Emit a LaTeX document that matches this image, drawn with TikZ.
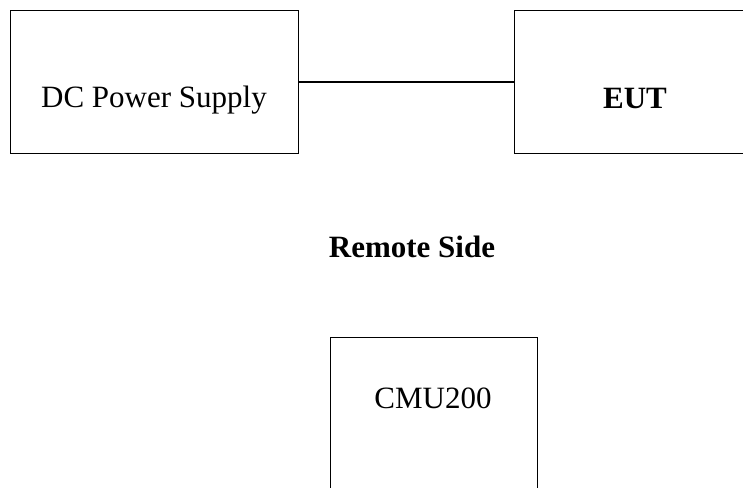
\documentclass[tikz,border=0pt]{standalone}
\usepackage{fontspec}
\setmainfont{Liberation Serif}
\begin{document}
\begin{tikzpicture}[x=1pt,y=-1pt,
  box/.style={draw=black,line width=1.4pt,rectangle,inner sep=0pt,anchor=north west},
  lbl/.style={anchor=base,inner sep=0pt,font=\fontsize{31}{36}\selectfont},
  conn/.style={draw=black,line width=1.4pt}]
\clip (0,0) rectangle (743,487);
\fill[white] (0,0) rectangle (743,487);
\node[box,minimum width=288pt,minimum height=143pt] (dc) at (10,10) {};
\node[box,minimum width=260pt,minimum height=143pt] (eut) at (514,10) {};
\node[box,minimum width=207pt,minimum height=170pt] (cmu) at (330,337) {};
\node[lbl] (dct) at (154,107) {DC Power Supply};
\node[lbl,font=\fontsize{31}{36}\selectfont\bfseries] (eutt) at (635,108) {EUT};
\node[lbl,font=\fontsize{31}{36}\selectfont\bfseries] (rs) at (412,257) {Remote Side};
\node[lbl] (cmut) at (433,408) {CMU200};
\draw[conn] (dc.east |- 0,82) coordinate (a) -- (eut.west |- a);
\end{tikzpicture}
\end{document}
